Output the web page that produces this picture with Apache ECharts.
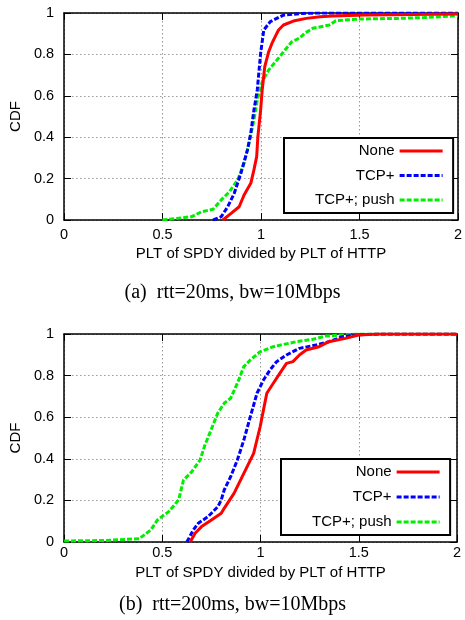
<!DOCTYPE html>
<html>
<head>
<meta charset="utf-8">
<script src="https://cdn.jsdelivr.net/npm/echarts@6/dist/echarts.min.js"></script>
<style>
html,body{margin:0;padding:0;background:#fff;}
#chart{width:465px;height:620px;}
</style>
</head>
<body>
<div id="chart"></div>
<script>
// Series names
const seriesNames = ['None', 'TCP+', 'TCP+; push'];
// Panel (a): rtt=20ms, bw=10Mbps  -- [PLT ratio, CDF]
const noneA = [[0.806,0],[0.848,0.032],[0.889,0.064],[0.914,0.121],[0.948,0.177],[0.964,0.242],[0.978,0.306],[0.984,0.402],[0.998,0.531],[1.006,0.628],[1.019,0.741],[1.039,0.813],[1.056,0.854],[1.072,0.886],[1.089,0.918],[1.114,0.942],[1.164,0.961],[1.23,0.974],[1.3,0.982],[1.363,0.986],[1.53,0.99],[2.0,0.995]];
const tcpA = [[0.757,0],[0.798,0.016],[0.831,0.064],[0.864,0.129],[0.898,0.226],[0.931,0.338],[0.948,0.419],[0.964,0.531],[0.981,0.628],[0.998,0.805],[1.014,0.918],[1.047,0.958],[1.114,0.99],[1.21,0.998],[1.3,1],[2.0,1]];
const pushA = [[0.499,0],[0.648,0.016],[0.698,0.04],[0.757,0.052],[0.798,0.097],[0.84,0.137],[0.881,0.193],[0.914,0.274],[0.939,0.37],[0.964,0.483],[0.981,0.58],[1.006,0.668],[1.039,0.725],[1.081,0.773],[1.122,0.821],[1.156,0.861],[1.197,0.88],[1.222,0.902],[1.263,0.926],[1.347,0.942],[1.38,0.963],[1.496,0.971],[1.696,0.974],[1.829,0.978],[2.0,0.987]];
// Panel (b): rtt=200ms, bw=10Mbps
const noneB = [[0.642,0],[0.667,0.042],[0.7,0.074],[0.75,0.106],[0.8,0.138],[0.815,0.162],[0.865,0.234],[0.915,0.33],[0.965,0.426],[0.998,0.554],[1.015,0.635],[1.032,0.715],[1.065,0.763],[1.098,0.811],[1.132,0.859],[1.165,0.867],[1.198,0.899],[1.232,0.923],[1.298,0.939],[1.348,0.963],[1.432,0.979],[1.498,0.995],[1.6,1],[2.0,1]];
const tcpB = [[0.625,0],[0.658,0.058],[0.683,0.09],[0.733,0.122],[0.783,0.17],[0.8,0.202],[0.815,0.25],[0.848,0.314],[0.882,0.394],[0.915,0.49],[0.948,0.602],[0.982,0.715],[1.015,0.779],[1.048,0.827],[1.082,0.867],[1.132,0.899],[1.198,0.931],[1.282,0.947],[1.348,0.963],[1.415,0.987],[1.482,0.995],[1.6,1],[2.0,1]];
const pushB = [[0,0.005],[0.2,0.007],[0.383,0.016],[0.442,0.058],[0.475,0.106],[0.533,0.146],[0.583,0.202],[0.608,0.298],[0.65,0.338],[0.692,0.394],[0.717,0.466],[0.748,0.538],[0.782,0.619],[0.815,0.667],[0.848,0.691],[0.882,0.763],[0.915,0.843],[0.948,0.875],[0.998,0.915],[1.065,0.939],[1.182,0.963],[1.265,0.974],[1.332,0.99],[1.415,0.995],[1.5,1],[2.0,1]];
// Axis ticks
const xTicks = [0, 0.5, 1, 1.5, 2];
const yTicks = [0, 0.2, 0.4, 0.6, 0.8, 1];
const captions = ['(a)  rtt=20ms, bw=10Mbps', '(b)  rtt=200ms, bw=10Mbps'];
const xName = 'PLT of SPDY divided by PLT of HTTP';
const yName = 'CDF';

const SANS = 'Liberation Sans, Arial, Helvetica, sans-serif';
const SERIF = 'Liberation Serif, Times New Roman, serif';
const colors = ['#ff0000', '#0000ff', '#00ee00'];
const dashes = ['solid', [5, 2], [5, 2]];

const chart = echarts.init(document.getElementById('chart'), null, {renderer: 'canvas'});

const grids = [
  {left: 60, right: 4, top: 13, height: 207},
  {left: 57, right: 8, top: 334, height: 208}
];

const gridLine = {show: true, lineStyle: {color: '#999', width: 1, type: [1.5, 2.5]}};
const axisLine = {show: true, onZero: false, lineStyle: {color: '#000', width: 1.5}};
const tick = {show: true, inside: true, length: 7, lineStyle: {color: '#000', width: 1}};

function xAx(gi, labelMargin, nameGap) {
  return [{
    type: 'value', gridIndex: gi, min: xTicks[0], max: xTicks[xTicks.length - 1], interval: 0.5,
    position: 'bottom', axisLine, axisTick: tick, splitLine: gridLine,
    axisLabel: {color: '#000', fontSize: 14.5, fontFamily: SANS, margin: labelMargin},
    name: xName, nameLocation: 'middle', nameGap: nameGap,
    nameTextStyle: {color: '#000', fontSize: 15, fontFamily: SANS}
  }, {
    type: 'value', gridIndex: gi, min: xTicks[0], max: xTicks[xTicks.length - 1], interval: 0.5,
    position: 'top', axisLine, axisTick: tick, splitLine: {show: false}, axisLabel: {show: false}
  }];
}
function yAx(gi, nameGap) {
  return [{
    type: 'value', gridIndex: gi, min: yTicks[0], max: yTicks[yTicks.length - 1], interval: 0.2,
    position: 'left', axisLine, axisTick: tick, splitLine: gridLine,
    axisLabel: {color: '#000', fontSize: 14.5, fontFamily: SANS, margin: 10},
    name: yName, nameLocation: 'middle', nameGap: nameGap,
    nameTextStyle: {color: '#000', fontSize: 15, fontFamily: SANS}
  }, {
    type: 'value', gridIndex: gi, min: yTicks[0], max: yTicks[yTicks.length - 1], interval: 0.2,
    position: 'right', axisLine, axisTick: tick, splitLine: {show: false}, axisLabel: {show: false}
  }];
}

const panelData = [[noneA, tcpA, pushA], [noneB, tcpB, pushB]];
const series = [];
panelData.forEach((set, gi) => {
  set.forEach((d, si) => {
    series.push({
      type: 'line', name: seriesNames[si], data: d,
      xAxisIndex: gi * 2, yAxisIndex: gi * 2,
      showSymbol: false, symbol: 'none', smooth: false, animation: false,
      z: 10 - si,
      lineStyle: {color: colors[si], width: 3, type: dashes[si]},
      itemStyle: {color: colors[si]}
    });
  });
});

function legend(left, top, gap) {
  return {
    orient: 'vertical', left: left, top: top, align: 'right',
    itemWidth: 43, itemHeight: 14, itemGap: gap,
    padding: [5.5, 9, 5.5, 31],
    borderColor: '#000', borderWidth: 2, backgroundColor: '#fff',
    textStyle: {color: '#000', fontSize: 15, fontFamily: SANS},
    lineStyle: {width: 3},
    itemStyle: {opacity: 0, color: 'rgba(0,0,0,0)', borderWidth: 0},
    selectedMode: false,
    data: seriesNames
  };
}

chart.setOption({
  animation: false,
  backgroundColor: '#fff',
  title: [
    {text: captions[0], left: 'center', top: 283, padding: 0,
     textStyle: {fontFamily: SERIF, fontSize: 20, fontWeight: 'normal', color: '#000'}},
    {text: captions[1], left: 'center', top: 595, padding: 0,
     textStyle: {fontFamily: SERIF, fontSize: 20, fontWeight: 'normal', color: '#000'}}
  ],
  grid: grids,
  xAxis: [...xAx(0, 7, 26), ...xAx(1, 3, 23)],
  yAxis: [...yAx(0, 36), ...yAx(1, 36)],
  legend: [legend(284, 138, 9.5), legend(281, 459, 10)],
  series: series
});
</script>
</body>
</html>
